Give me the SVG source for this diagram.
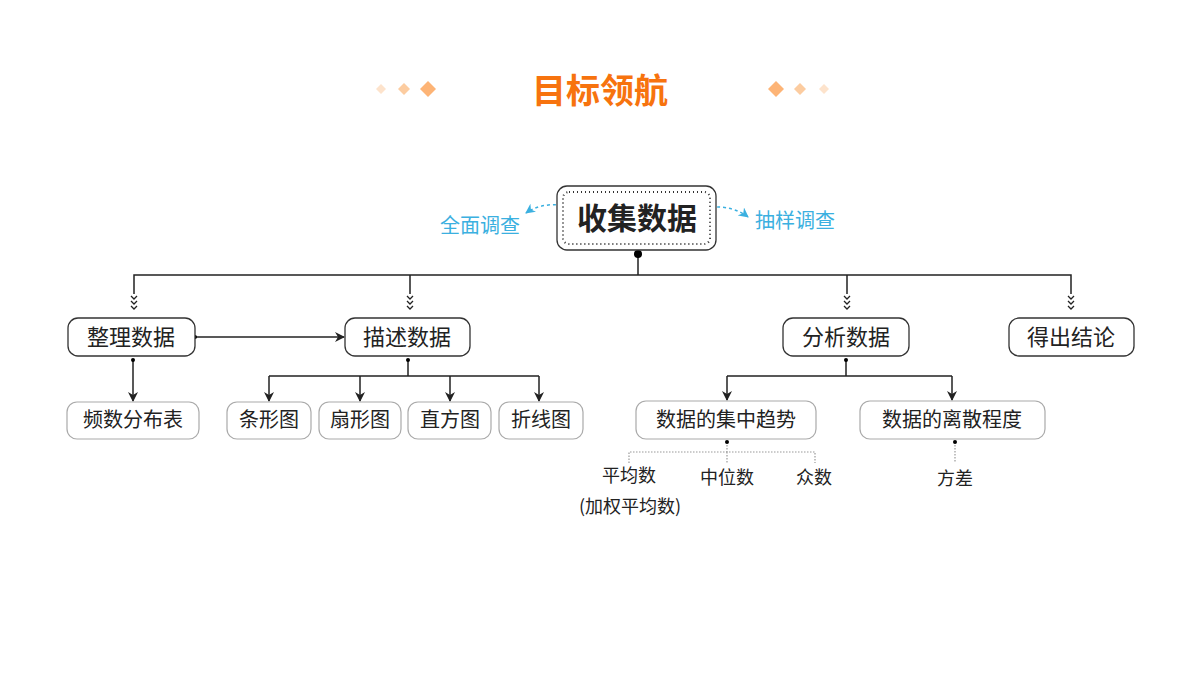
<svg xmlns="http://www.w3.org/2000/svg" width="1200" height="675" viewBox="0 0 1200 675">
<defs>
<style>
text{font-family:"Noto Sans CJK SC","Noto Sans",sans-serif;text-anchor:middle;dominant-baseline:central;fill:#222}
.box{fill:#fff;stroke:#333;stroke-width:1.3}
.lbox{fill:#fff;stroke:#aaa;stroke-width:1.2}
.ln{fill:none;stroke:#222;stroke-width:1.5}
.dl{fill:none;stroke:#999;stroke-width:1.2;stroke-dasharray:1.5 1.5}
.bl{fill:none;stroke:#3bb0e0;stroke-width:1.5;stroke-dasharray:3 3}
.ch{fill:none;stroke:#222;stroke-width:1.3}
</style>
<marker id="ar" markerWidth="10" markerHeight="10" refX="9" refY="5" orient="auto" markerUnits="userSpaceOnUse"><path d="M0,0 L10,5 L0,10 L3,5 Z" fill="#222"/></marker>
<marker id="ab" markerWidth="10" markerHeight="10" refX="9" refY="5" orient="auto" markerUnits="userSpaceOnUse"><path d="M0,0 L10,5 L0,10 L3,5 Z" fill="#3bb0e0"/></marker>
<g id="chev"><path class="ch" d="M-3,0 L0,3 L3,0 M-3,5 L0,8 L3,5 M-3,10 L0,13 L3,10"/></g>
</defs>
<g id="title">
<path d="M381,84 L386,89 L381,94 L376,89Z" fill="#fde3cc"/>
<path d="M404,83 L410,89 L404,95 L398,89Z" fill="#fccca0"/>
<path d="M428,81 L436,89 L428,97 L420,89Z" fill="#fdb476"/>
<path d="M776,81 L784,89 L776,97 L768,89Z" fill="#fdb476"/>
<path d="M800,83 L806,89 L800,95 L794,89Z" fill="#fccca0"/>
<path d="M824,84 L829,89 L824,94 L819,89Z" fill="#fde3cc"/>
<text x="600" y="88" style="font-size:34px;font-weight:bold;fill:#f7730e">目标领航</text>
</g>
<g id="connectors">
<path class="bl" d="M562,205 Q540,203 526,213" marker-end="url(#ab)"/>
<path class="bl" d="M711,207 Q734,206 748,217" marker-end="url(#ab)"/>
<path class="ln" d="M638,254 V275 M134,294 V275 H1071 V294 M410,275 V294 M847,275 V294"/>
<use href="#chev" x="134" y="296"/><use href="#chev" x="410" y="296"/><use href="#chev" x="847" y="296"/><use href="#chev" x="1071" y="296"/>
<path class="ln" d="M195,337 H344" marker-end="url(#ar)"/>
<circle cx="195" cy="337" r="2"/>
<path class="ln" d="M133,360 V401" marker-end="url(#ar)"/><circle cx="133" cy="360" r="2"/>
<path class="ln" d="M408,360 V376 M269,376 H539"/><circle cx="408" cy="360" r="2"/>
<path class="ln" d="M269,376 V401" marker-end="url(#ar)"/>
<path class="ln" d="M360,376 V401" marker-end="url(#ar)"/>
<path class="ln" d="M450,376 V401" marker-end="url(#ar)"/>
<path class="ln" d="M539,376 V401" marker-end="url(#ar)"/>
<path class="ln" d="M846,360 V376 M727,376 H952"/><circle cx="846" cy="360" r="2"/>
<path class="ln" d="M727,376 V400" marker-end="url(#ar)"/>
<path class="ln" d="M952,376 V400" marker-end="url(#ar)"/>
<path class="dl" d="M727,442 V452 M629,463 V452 H815 V463 M727,452 V463 M955,442 V463"/>
<circle cx="727" cy="442" r="2"/><circle cx="955" cy="442" r="2"/>
<circle cx="638" cy="254" r="4"/>
</g>
<g id="n-collect">
<rect class="box" x="557" y="186" width="159" height="64" rx="10"/>
<rect x="563" y="192" width="147" height="52" rx="6" fill="none" stroke="#333" stroke-width="2" stroke-dasharray="1 3"/>
<text x="637" y="216" style="font-size:30px;font-weight:bold">收集数据</text>
<text x="480" y="224" style="font-size:20px;fill:#3bb0e0">全面调查</text>
<text x="795" y="219" style="font-size:20px;fill:#3bb0e0">抽样调查</text>
</g>
<g id="n1"><rect class="box" x="68" y="318" width="127" height="38" rx="10"/><text x="131" y="335" style="font-size:22px">整理数据</text></g>
<g id="n2"><rect class="box" x="345" y="318" width="125" height="38" rx="10"/><text x="407" y="335" style="font-size:22px">描述数据</text></g>
<g id="n3"><rect class="box" x="783" y="318" width="126" height="38" rx="10"/><text x="846" y="335" style="font-size:22px">分析数据</text></g>
<g id="n4"><rect class="box" x="1009" y="318" width="125" height="38" rx="10"/><text x="1071" y="335" style="font-size:22px">得出结论</text></g>
<g id="n5"><rect class="lbox" x="67" y="402" width="132" height="37" rx="10"/><text x="133" y="418" style="font-size:20px">频数分布表</text></g>
<g id="n6"><rect class="lbox" x="227" y="402" width="84" height="37" rx="10"/><text x="269" y="418" style="font-size:20px">条形图</text></g>
<g id="n7"><rect class="lbox" x="319" y="402" width="82" height="37" rx="10"/><text x="360" y="418" style="font-size:20px">扇形图</text></g>
<g id="n8"><rect class="lbox" x="408" y="402" width="83" height="37" rx="10"/><text x="450" y="418" style="font-size:20px">直方图</text></g>
<g id="n9"><rect class="lbox" x="499" y="402" width="84" height="37" rx="10"/><text x="541" y="418" style="font-size:20px">折线图</text></g>
<g id="n10"><rect class="lbox" x="636" y="401" width="180" height="38" rx="10"/><text x="726" y="418" style="font-size:20px">数据的集中趋势</text></g>
<g id="n11"><rect class="lbox" x="860" y="401" width="185" height="38" rx="10"/><text x="952" y="418" style="font-size:20px">数据的离散程度</text></g>
<g id="leaves">
<text x="629" y="474" style="font-size:18px">平均数</text>
<text x="630" y="505" style="font-size:18px">(加权平均数)</text>
<text x="727" y="476" style="font-size:18px">中位数</text>
<text x="814" y="476" style="font-size:18px">众数</text>
<text x="955" y="477" style="font-size:18px">方差</text>
</g>
</svg>
